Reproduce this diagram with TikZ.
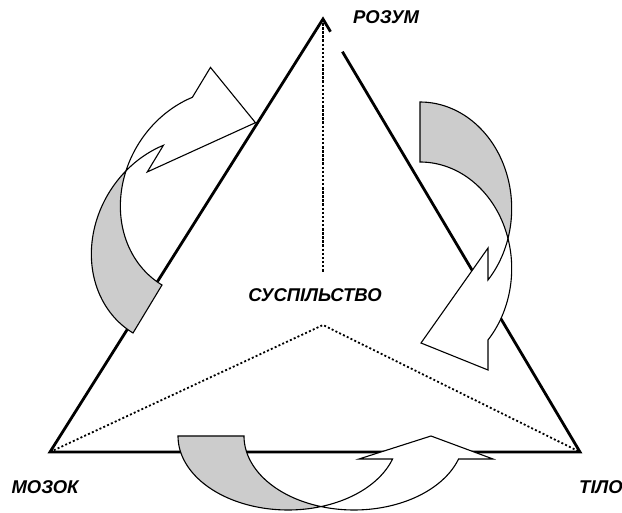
\documentclass[tikz,border=0pt]{standalone}
\usepackage{fontspec}
\setmainfont{Liberation Sans}
\usetikzlibrary{calc}
\definecolor{bandgrey}{RGB}{204,204,204}
\begin{document}
\begin{tikzpicture}[x=1pt,y=-1pt,
  side/.style={line width=2.8pt, line join=miter},
  vdots/.style={line width=2.2pt, dash pattern=on 2.5pt off 1.6pt},
  ddots/.style={line width=1.8pt, dash pattern=on 2pt off 2.2pt},
  arrowline/.style={line width=1.1pt, line join=miter},
  back/.style={arrowline, fill=bandgrey},
  front/.style={arrowline, fill=white},
  lbl/.style={font=\fontsize{18.5}{21}\selectfont\bfseries\itshape, inner sep=0pt}]
\useasboundingbox (0,0) rectangle (622,513);
% corners
\coordinate (apex) at (323,19);
\coordinate (L) at (50,452);
\coordinate (R) at (580,452);
\coordinate (M) at (323,325);
\coordinate (V) at (323,272);
\coordinate (stub) at ($(apex)!0.0293!(R)$);
\coordinate (gap) at ($(apex)!0.0755!(R)$);
% triangle
\draw[side] (stub) -- (apex) -- (L) -- (R) -- (gap);
% dotted lines
\draw[vdots] (apex) -- (V);
\draw[ddots] (L) -- (M) -- (R);
% bottom arrow
\begin{scope}[shift={(178,436)}, x={(1pt,0pt)}, y={(0pt,-1pt)}]
  \draw[back] (0,0) -- plot[domain=180:72.54, samples=50, variable=\t] ({110+110*cos(\t)},{74*sin(\t)})
     -- plot[domain=107.46:180, samples=50, variable=\t] ({176+110*cos(\t)},{74*sin(\t)}) -- cycle;
  \draw[front] plot[domain=72.54:18.1, samples=50, variable=\t] ({110+110*cos(\t)},{74*sin(\t)})
     -- (181,23) -- (253,0) -- (315,23) -- (280.6,23)
     -- plot[domain=18.1:107.46, samples=50, variable=\t] ({176+110*cos(\t)},{74*sin(\t)}) -- cycle;
\end{scope}
% left arrow
\begin{scope}[shift={(133,333)}, x={(0.518pt,0.857pt)}, y={(-0.857pt,0.518pt)}]
  \draw[back] (0,0) -- plot[domain=180:74.83, samples=50, variable=\t] ({107+107*cos(\t)},{93*sin(\t)})
     -- plot[domain=105.17:180, samples=50, variable=\t] ({163+107*cos(\t)},{93*sin(\t)}) -- cycle;
  \draw[front] plot[domain=74.83:49.75, samples=40, variable=\t] ({107+107*cos(\t)},{93*sin(\t)})
     -- (145,71) -- (243,4) -- (267,71) -- (232.1,71)
     -- plot[domain=49.75:105.17, samples=50, variable=\t] ({163+107*cos(\t)},{93*sin(\t)}) -- cycle;
\end{scope}
% right arrow
\begin{scope}[shift={(420,102)}, x={(0pt,-1pt)}, y={(1pt,0pt)}]
  \draw[back] (0,0) -- plot[domain=180:73.64, samples=50, variable=\t] ({106.5+106.5*cos(\t)},{91.7*sin(\t)})
     -- plot[domain=106.36:180, samples=50, variable=\t] ({166.5+106.5*cos(\t)},{91.7*sin(\t)}) -- cycle;
  \draw[front] plot[domain=73.64:47.86, samples=40, variable=\t] ({106.5+106.5*cos(\t)},{91.7*sin(\t)})
     -- (146,68) -- (241,1) -- (268,68) -- (238,68)
     -- plot[domain=47.86:106.36, samples=50, variable=\t] ({166.5+106.5*cos(\t)},{91.7*sin(\t)}) -- cycle;
\end{scope}
% labels
\node[lbl] (rozum) at (386,17) {РОЗУМ};
\node[lbl] (susp) at (315,295) {СУСПІЛЬСТВО};
\node[lbl] (mozok) at (45,487) {МОЗОК};
\node[lbl] (tilo) at (601,487) {ТІЛО};
\end{tikzpicture}
\end{document}
